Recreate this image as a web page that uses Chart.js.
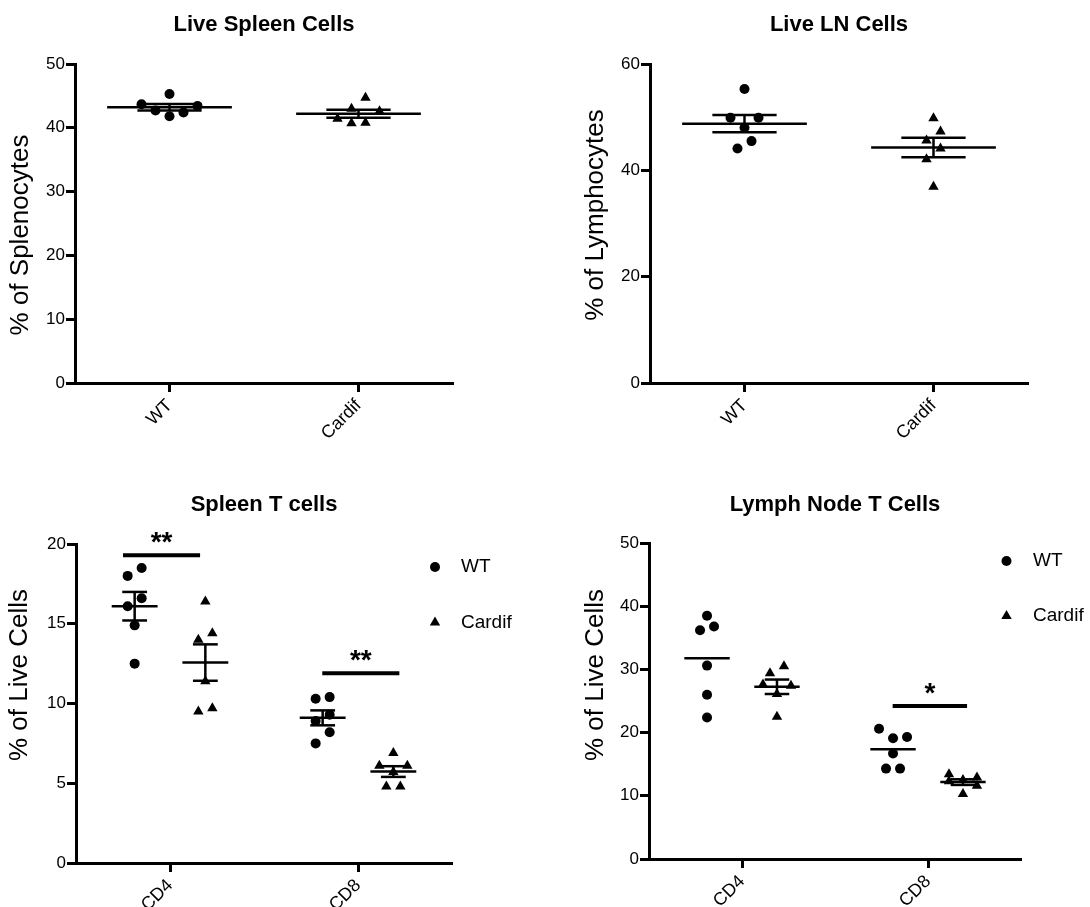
<!DOCTYPE html>
<html>
<head>
<meta charset="utf-8">
<script src="https://cdn.jsdelivr.net/npm/chart.js@4.4.1/dist/chart.umd.min.js"></script>
<style>
  body { margin: 0; background: #fff; }
  #page { position: relative; width: 1090px; height: 907px; }
  canvas { position: absolute; }
</style>
</head>
<body>
<div id="page">
  <canvas id="liveSpleen" width="545" height="460" style="left:0;top:0"></canvas>
  <canvas id="liveLn" width="545" height="460" style="left:545px;top:0"></canvas>
  <canvas id="spleenT" width="545" height="447" style="left:0;top:460px"></canvas>
  <canvas id="lnT" width="545" height="447" style="left:545px;top:460px"></canvas>
</div>
<script>
// values, one per mouse
const genotypes = ['WT', 'Cardif'];
const subsets = ['CD4', 'CD8'];

const liveSpleenWT = [43.7, 42.7, 45.3, 41.8, 42.4, 43.4];
const liveSpleenCardif = [44.7, 41.4, 40.7, 40.8, 43.0, 42.6];
const liveLnWT = [55.3, 49.9, 49.9, 48.0, 45.5, 44.1];
const liveLnCardif = [49.8, 47.3, 45.6, 44.1, 42.1, 36.9];

const spleenCD4WT = [18.5, 18.0, 16.6, 16.1, 14.9, 12.5];
const spleenCD4Cardif = [16.4, 14.0, 14.4, 11.4, 9.5, 9.7];
const spleenCD8WT = [10.3, 10.4, 9.3, 8.9, 8.2, 7.5];
const spleenCD8Cardif = [6.9, 6.1, 6.1, 5.7, 4.8, 4.8];

const lnCD4WT = [38.5, 36.8, 36.2, 30.6, 26.0, 22.4];
const lnCD4Cardif = [30.5, 29.4, 27.4, 27.6, 26.1, 22.5];
const lnCD8WT = [19.3, 19.1, 20.6, 16.7, 14.3, 14.3];
const lnCD8Cardif = [12.9, 12.3, 12.5, 13.4, 11.6, 10.3];

// significance marks: category index, bar height, label
const spleenTSigCat = [0, 1];
const spleenTSigLevel = [19.3, 11.9];
const spleenTSigText = ['**', '**'];
const lnTSigCat = [1];
const lnTSigLevel = [24.2];
const lnTSigText = ['*'];

const FONT = '"Liberation Sans", Arial, Helvetica, sans-serif';
Chart.defaults.font.family = FONT;
Chart.defaults.color = '#000';

function stats(a) {
  const n = a.length;
  const m = a.reduce((s, v) => s + v, 0) / n;
  const sd = Math.sqrt(a.reduce((s, v) => s + (v - m) * (v - m), 0) / (n - 1));
  return { m: m, sem: sd / Math.sqrt(n) };
}

// text, legend and significance stars
const extras = {
  id: 'extras',
  afterDraw(chart, args, o) {
    const ctx = chart.ctx;
    const xs = chart.scales.x, ys = chart.scales.y;
    ctx.save();
    ctx.fillStyle = '#000';

    ctx.save();
    ctx.translate(o.yTitleX, o.yTitleY);
    ctx.rotate(-Math.PI / 2);
    ctx.font = '26px ' + FONT;
    ctx.textAlign = 'center';
    ctx.textBaseline = 'middle';
    ctx.fillText(o.yTitle, 0, 0);
    ctx.restore();

    (o.sig || []).forEach(s => {
      const mid = (s.from + s.to) / 2;
      ctx.font = 'bold 28px ' + FONT;
      ctx.textAlign = 'center';
      ctx.textBaseline = 'alphabetic';
      ctx.fillText(s.text, xs.getPixelForValue(mid), ys.getPixelForValue(s.level) - 4);
    });

    if (o.legend) {
      o.legend.items.forEach((it, i) => {
        const py = o.legend.y + i * o.legend.gap;
        Chart.helpers.drawPoint(ctx, { pointStyle: it.marker, radius: it.radius, rotation: 0, borderWidth: 0 }, o.legend.x, py);
        ctx.font = '19px ' + FONT;
        ctx.textAlign = 'left';
        ctx.textBaseline = 'middle';
        ctx.fillText(it.label, o.legend.textX, py);
      });
    }
    ctx.restore();
  }
};

// spread each group's points sideways in rows, like a dot plot
function swarm(chart, step, rowGap) {
  const xs = chart.scales.x, ys = chart.scales.y;
  const unit = xs.getPixelForValue(1) - xs.getPixelForValue(0);
  chart.data.datasets.forEach(ds => {
    if (!ds.values) return;
    const pts = ds.values.map((v, i) => ({ v: v, i: i, py: ys.getPixelForValue(v), off: 0 }));
    const sorted = pts.slice().sort((a, b) => a.v - b.v);
    let k = 0;
    while (k < sorted.length) {
      let j = k + 1;
      while (j < sorted.length && sorted[k].py - sorted[j].py < rowGap) j++;
      const row = sorted.slice(k, j);
      const n = row.length;
      row.forEach((p, r) => {
        let slot;
        if (n % 2) {
          slot = r === 0 ? 0 : Math.ceil(r / 2) * (r % 2 ? 1 : -1);
        } else {
          slot = (Math.floor(r / 2) + 0.5) * (r % 2 ? 1 : -1);
        }
        p.off = slot * step;
      });
      k = j;
    }
    ds.data = pts.map(p => ({ x: ds.center + p.off / unit, y: p.v }));
  });
  chart.update('none');
}

function makePanel(id, cfg) {
  const datasets = [];
  const segs = [];
  cfg.series.forEach(s => {
    s.groups.forEach(g => {
      const c = g.cat + s.shift;
      datasets.push({
        label: s.label,
        values: g.values,
        center: c,
        data: g.values.map(v => ({ x: c, y: v })),
        pointStyle: s.marker,
        pointRadius: s.radius,
        pointHoverRadius: s.radius,
        backgroundColor: '#000',
        borderColor: '#000',
        borderWidth: 0
      });
      const st = stats(g.values);
      segs.push([c - cfg.meanHalf, st.m, c + cfg.meanHalf, st.m, 2.5]);
      if (s.sem) {
        const hi = st.m + st.sem, lo = st.m - st.sem;
        segs.push([c - cfg.semHalf, hi, c + cfg.semHalf, hi, 2.5]);
        segs.push([c - cfg.semHalf, lo, c + cfg.semHalf, lo, 2.5]);
        segs.push([c, lo, c, hi, 2.5]);
      }
    });
  });
  (cfg.sig || []).forEach(s => segs.push([s.from, s.level, s.to, s.level, 4]));
  segs.forEach(sg => {
    datasets.push({
      data: [{ x: sg[0], y: sg[1] }, { x: sg[2], y: sg[3] }],
      showLine: true,
      borderColor: '#000',
      borderWidth: sg[4],
      pointRadius: 0,
      pointHoverRadius: 0,
      pointHitRadius: 0
    });
  });

  const canvas = document.getElementById(id);
  const w = canvas.width, h = canvas.height;
  const chart = new Chart(canvas, {
    type: 'scatter',
    data: { datasets: datasets },
    options: {
      responsive: false,
      animation: false,
      devicePixelRatio: 1,
      events: [],
      layout: { padding: { left: 0, top: 0, right: w - cfg.right, bottom: 0 } },
      plugins: {
        legend: { display: false },
        tooltip: { enabled: false },
        title: {
          display: true,
          text: cfg.title,
          fullSize: false,
          color: '#000',
          font: { size: 22, weight: 'bold', family: FONT },
          padding: { top: cfg.titleY - 13.2, bottom: cfg.top - cfg.titleY - 13.2 }
        },
        extras: {
          yTitle: cfg.yTitle,
          yTitleX: cfg.yTitleX,
          yTitleY: cfg.yTitleY,
          sig: cfg.sig,
          legend: cfg.legend
        }
      },
      scales: {
        x: {
          type: 'linear',
          min: -0.5,
          max: 1.5,
          afterBuildTicks: ax => { ax.ticks = cfg.cats.map((c, i) => ({ value: i })); },
          afterFit: ax => { ax.height = h - cfg.bottom; },
          ticks: {
            callback: v => cfg.cats[v],
            minRotation: 45,
            maxRotation: 45,
            autoSkip: false,
            color: '#000',
            font: { size: 18 },
            padding: 3
          },
          grid: { drawOnChartArea: false, drawTicks: true, tickLength: 9, tickWidth: 3, tickColor: '#000' },
          border: { display: true, color: '#000', width: 3 }
        },
        y: {
          min: 0,
          max: cfg.yMax,
          afterFit: ax => { ax.width = cfg.left; },
          ticks: { stepSize: cfg.yStep, color: '#000', font: { size: 17 }, padding: 1 },
          grid: { drawOnChartArea: false, drawTicks: true, tickLength: 9, tickWidth: 3, tickColor: '#000' },
          border: { display: true, color: '#000', width: 3 }
        }
      }
    },
    plugins: [extras]
  });
  swarm(chart, 14, 13);
  return chart;
}

const wideLines = { meanHalf: 0.33, semHalf: 0.17 };
const narrowLines = { meanHalf: 0.122, semHalf: 0.066 };

makePanel('liveSpleen', Object.assign({
  title: 'Live Spleen Cells', yTitle: '% of Splenocytes', cats: genotypes,
  yMax: 50, yStep: 10,
  left: 75, right: 453, top: 64, bottom: 383, titleY: 25, yTitleX: 21, yTitleY: 235,
  series: [
    { label: 'WT', marker: 'circle', radius: 5, shift: 0, sem: true, groups: [{ cat: 0, values: liveSpleenWT }] },
    { label: 'Cardif', marker: 'triangle', radius: 6, shift: 0, sem: true, groups: [{ cat: 1, values: liveSpleenCardif }] }
  ]
}, wideLines));

makePanel('liveLn', Object.assign({
  title: 'Live LN Cells', yTitle: '% of Lymphocytes', cats: genotypes,
  yMax: 60, yStep: 20,
  left: 105, right: 483, top: 64, bottom: 383, titleY: 25, yTitleX: 51, yTitleY: 215,
  series: [
    { label: 'WT', marker: 'circle', radius: 5, shift: 0, sem: true, groups: [{ cat: 0, values: liveLnWT }] },
    { label: 'Cardif', marker: 'triangle', radius: 6, shift: 0, sem: true, groups: [{ cat: 1, values: liveLnCardif }] }
  ]
}, wideLines));

const sigSpansSpleen = [[-0.25, 0.16], [-0.19, 0.22]];
makePanel('spleenT', Object.assign({
  title: 'Spleen T cells', yTitle: '% of Live Cells', cats: subsets,
  yMax: 20, yStep: 5,
  left: 76, right: 452, top: 84, bottom: 403, titleY: 45, yTitleX: 20, yTitleY: 215,
  series: [
    { label: 'WT', marker: 'circle', radius: 5, shift: -0.188, sem: true,
      groups: [{ cat: 0, values: spleenCD4WT }, { cat: 1, values: spleenCD8WT }] },
    { label: 'Cardif', marker: 'triangle', radius: 6, shift: 0.188, sem: true,
      groups: [{ cat: 0, values: spleenCD4Cardif }, { cat: 1, values: spleenCD8Cardif }] }
  ],
  sig: spleenTSigCat.map((c, i) => ({ from: c + sigSpansSpleen[i][0], to: c + sigSpansSpleen[i][1], level: spleenTSigLevel[i], text: spleenTSigText[i] })),
  legend: { x: 435, y: 107, gap: 55.5, textX: 461, items: [
    { label: genotypes[0], marker: 'circle', radius: 5 },
    { label: genotypes[1], marker: 'triangle', radius: 6 }
  ] }
}, narrowLines));

const sigSpansLn = [[-0.19, 0.21]];
makePanel('lnT', Object.assign({
  title: 'Lymph Node T Cells', yTitle: '% of Live Cells', cats: subsets,
  yMax: 50, yStep: 10,
  left: 104, right: 476, top: 83, bottom: 399, titleY: 45, yTitleX: 51, yTitleY: 215,
  series: [
    { label: 'WT', marker: 'circle', radius: 5, shift: -0.188, sem: false,
      groups: [{ cat: 0, values: lnCD4WT }, { cat: 1, values: lnCD8WT }] },
    { label: 'Cardif', marker: 'triangle', radius: 6, shift: 0.188, sem: true,
      groups: [{ cat: 0, values: lnCD4Cardif }, { cat: 1, values: lnCD8Cardif }] }
  ],
  sig: lnTSigCat.map((c, i) => ({ from: c + sigSpansLn[i][0], to: c + sigSpansLn[i][1], level: lnTSigLevel[i], text: lnTSigText[i] })),
  legend: { x: 461.5, y: 101, gap: 55, textX: 488, items: [
    { label: genotypes[0], marker: 'circle', radius: 5 },
    { label: genotypes[1], marker: 'triangle', radius: 6 }
  ] }
}, narrowLines));
</script>
</body>
</html>
